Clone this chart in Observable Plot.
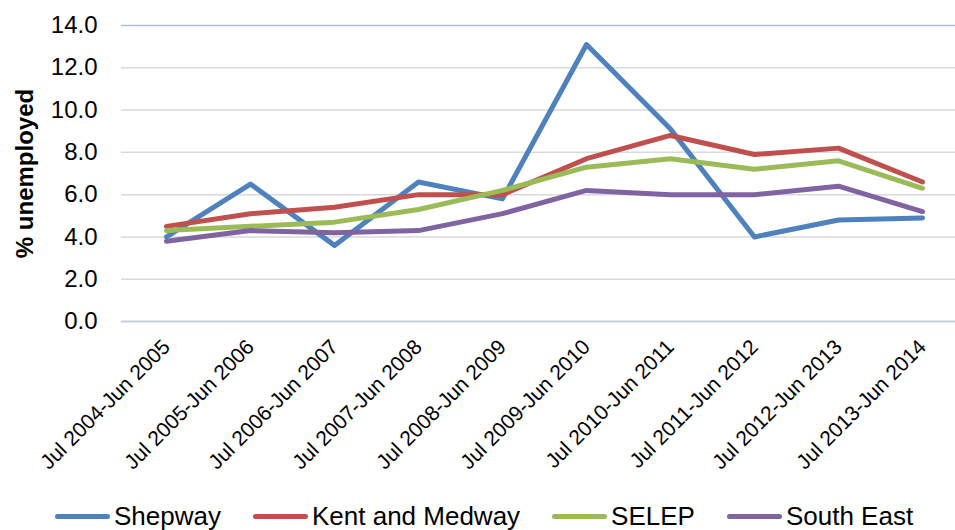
<!DOCTYPE html>
<html>
<head>
<meta charset="utf-8">
<script src="https://cdn.jsdelivr.net/npm/d3@7"></script>
<script src="https://cdn.jsdelivr.net/npm/@observablehq/plot@0.6"></script>
<style>
  html, body { margin: 0; padding: 0; background: #fff; }
  #chart { width: 955px; }
  #legend { display: flex; align-items: center; height: 35px; padding-left: 55px; padding-top: 4px;
    font-family: "Liberation Sans", Arial, sans-serif; font-size: 26px; color: #000; }
  .item { display: flex; align-items: center; margin-right: 32px; }
  .sw { width: 55px; height: 5px; border-radius: 3px; margin-right: 4px; }
</style>
</head>
<body>
<div id="chart"></div>
<div id="legend"></div>
<script>
const periods = ["Jul 2004-Jun 2005","Jul 2005-Jun 2006","Jul 2006-Jun 2007","Jul 2007-Jun 2008","Jul 2008-Jun 2009","Jul 2009-Jun 2010","Jul 2010-Jun 2011","Jul 2011-Jun 2012","Jul 2012-Jun 2013","Jul 2013-Jun 2014"];
const seriesNames = ["Shepway","Kent and Medway","SELEP","South East"];
const shepway = [4.0, 6.5, 3.6, 6.6, 5.8, 13.1, 9.1, 4.0, 4.8, 4.9];
const kentMedway = [4.5, 5.1, 5.4, 6.0, 6.0, 7.7, 8.8, 7.9, 8.2, 6.6];
const selep = [4.3, 4.5, 4.7, 5.3, 6.2, 7.3, 7.7, 7.2, 7.6, 6.3];
const southEast = [3.8, 4.3, 4.2, 4.3, 5.1, 6.2, 6.0, 6.0, 6.4, 5.2];
const yTicks = [0, 2, 4, 6, 8, 10, 12, 14];
const colors = ["#4f81bd", "#c0504d", "#9bbb59", "#8064a2"];

const seriesValues = [shepway, kentMedway, selep, southEast];
const data = [];
seriesNames.forEach((name, i) => {
  periods.forEach((p, j) => data.push({series: name, period: p, value: seriesValues[i][j]}));
});

const font = "'Liberation Sans', Arial, sans-serif";
const chart = Plot.plot({
  width: 955,
  height: 495,
  marginLeft: 121,
  marginRight: 0,
  marginTop: 25,
  marginBottom: 174,
  style: {fontFamily: font, background: "#fff", color: "#000"},
  x: {type: "point", domain: periods, range: [163, 925], padding: 0},
  y: {domain: [0, 14], ticks: yTicks},
  color: {domain: seriesNames, range: colors},
  marks: [
    Plot.ruleY(yTicks.filter(d => d > 0 && d < 14), {stroke: "#d9d9d9", strokeWidth: 1.5}),
    Plot.ruleY([14], {stroke: "#a7c1e1", strokeWidth: 1.5}),
    Plot.ruleY([0], {stroke: "#c5cfdc", strokeWidth: 2}),
    Plot.ruleX([0], {x: () => null, frameAnchor: "left", y1: 0, y2: 14, stroke: "#a7c1e1", strokeWidth: 1.5}),
    Plot.axisY({ticks: yTicks, tickSize: 0, tickPadding: 24, tickFormat: d => d.toFixed(1), fontSize: 24, label: null}),
    Plot.axisX({tickSize: 0, tickPadding: 22, tickRotate: -45, fontSize: 21, label: null}),
    Plot.text(["% unemployed"], {frameAnchor: "left", textAnchor: "middle", dx: -96, rotate: -90, fontSize: 24, fontWeight: "bold", text: d => d}),
    Plot.line(data, {x: "period", y: "value", z: "series", stroke: "series", strokeWidth: 5, strokeLinejoin: "round", strokeLinecap: "round"})
  ]
});
document.getElementById("chart").appendChild(chart);

const legend = document.getElementById("legend");
seriesNames.forEach((name, i) => {
  const item = document.createElement("div");
  item.className = "item";
  const sw = document.createElement("span");
  sw.className = "sw";
  sw.style.background = colors[i];
  const label = document.createElement("span");
  label.textContent = name;
  item.appendChild(sw);
  item.appendChild(label);
  legend.appendChild(item);
});
</script>
</body>
</html>
